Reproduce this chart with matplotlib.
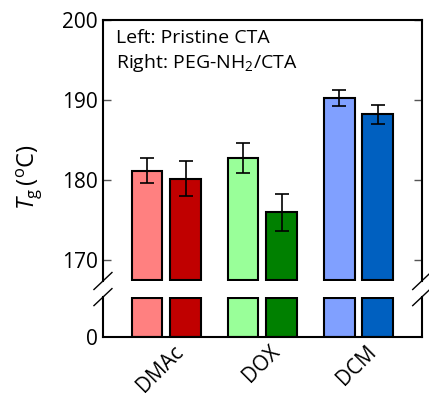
import numpy as np
import matplotlib
matplotlib.use("Agg")
import matplotlib.pyplot as plt
import matplotlib.transforms as mtransforms

plt.rcParams['font.family'] = ['Open Sans', 'DejaVu Sans']
plt.rcParams['mathtext.fontset'] = 'custom'
plt.rcParams['mathtext.rm'] = 'Open Sans'
plt.rcParams['mathtext.it'] = 'Open Sans:italic'

# data
solvents = ['DMAc', 'DOX', 'DCM']
tg_pristine = [181.2, 182.8, 190.2]
err_pristine = [1.6, 1.9, 1.0]
tg_peg = [180.2, 176.0, 188.2]
err_peg = [2.2, 2.3, 1.15]
col_pristine = ['#FF8080', '#99FF99', '#80A0FF']
col_peg = ['#C00000', '#008000', '#0060C0']

x = np.arange(len(solvents))
w = 0.32
off = 0.2

top_lo, top_hi = 167.4, 200
bot_hi = 5.0

fig = plt.figure(figsize=(4.29, 3.93), dpi=100)
ax_top = fig.add_axes([0.240, 0.285, 0.743, 0.664])
ax_bot = fig.add_axes([0.240, 0.1425, 0.743, 0.1015])

bar_kw = dict(edgecolor='black', linewidth=1.5, zorder=2)
# upper panel: boxes start just above the break
base = top_lo + 0.15
ax_top.bar(x - off, np.array(tg_pristine) - base, w, bottom=base, color=col_pristine, **bar_kw)
ax_top.bar(x + off, np.array(tg_peg) - base, w, bottom=base, color=col_peg, **bar_kw)
# lower panel: boxes end just below the break
ax_bot.bar(x - off, bot_hi * 0.97, w, color=col_pristine, **bar_kw)
ax_bot.bar(x + off, bot_hi * 0.97, w, color=col_peg, **bar_kw)

for ax in (ax_top, ax_bot):
    ax.set_xlim(-0.66, 2.66)
    for s in ax.spines.values():
        s.set_linewidth(1.5)

ax_top.errorbar(x - off, tg_pristine, yerr=err_pristine, fmt='none', ecolor='black',
                elinewidth=1.2, capsize=5, capthick=1.2, zorder=3)
ax_top.errorbar(x + off, tg_peg, yerr=err_peg, fmt='none', ecolor='black',
                elinewidth=1.2, capsize=5, capthick=1.2, zorder=3)

ax_top.set_ylim(top_lo, top_hi)
ax_top.set_yticks([170, 180, 190, 200])
ax_top.spines['bottom'].set_visible(False)
ax_top.tick_params(axis='x', bottom=False, labelbottom=False)
ax_top.tick_params(axis='y', direction='in', left=True, right=True, length=6,
                   width=1, colors='#555555', labelcolor='black', labelsize=15)

ax_bot.set_ylim(0, bot_hi)
ax_bot.set_yticks([0])
ax_bot.spines['top'].set_visible(False)
ax_bot.tick_params(axis='y', direction='in', left=True, right=True, length=0, labelsize=15)
ax_bot.set_xticks(x)
ax_bot.set_xticklabels(solvents, rotation=45, ha='right', rotation_mode='anchor', fontsize=15)
ax_bot.tick_params(axis='x', length=0, pad=3)
shift = mtransforms.ScaledTranslation(0.07, 0, fig.dpi_scale_trans)
for lab in ax_bot.get_xticklabels():
    lab.set_transform(lab.get_transform() + shift)

# break marks
d = 18 / 429 / 0.743 / 2
dy_top = 17 / 393 / 0.664 / 2
dy_bot = 17 / 393 / 0.1015 / 2
kw = dict(color='black', linewidth=1, clip_on=False)
for xx in (0, 1):
    ax_top.plot([xx - d, xx + d], [-dy_top, dy_top], transform=ax_top.transAxes, **kw)
    ax_bot.plot([xx - d, xx + d], [1 - dy_bot, 1 + dy_bot], transform=ax_bot.transAxes, **kw)

fig.text(0.068, 0.55, r'$\mathit{T}_\mathrm{g}\,(^\mathrm{o}\mathrm{C})$', rotation=90,
         ha='center', va='center', fontsize=17)

ax_top.text(0.04, 0.965, 'Left: Pristine CTA\nRight: PEG-NH$_2$/CTA', transform=ax_top.transAxes,
            ha='left', va='top', fontsize=14, linespacing=1.3)

fig.savefig('out.png', dpi=100)
